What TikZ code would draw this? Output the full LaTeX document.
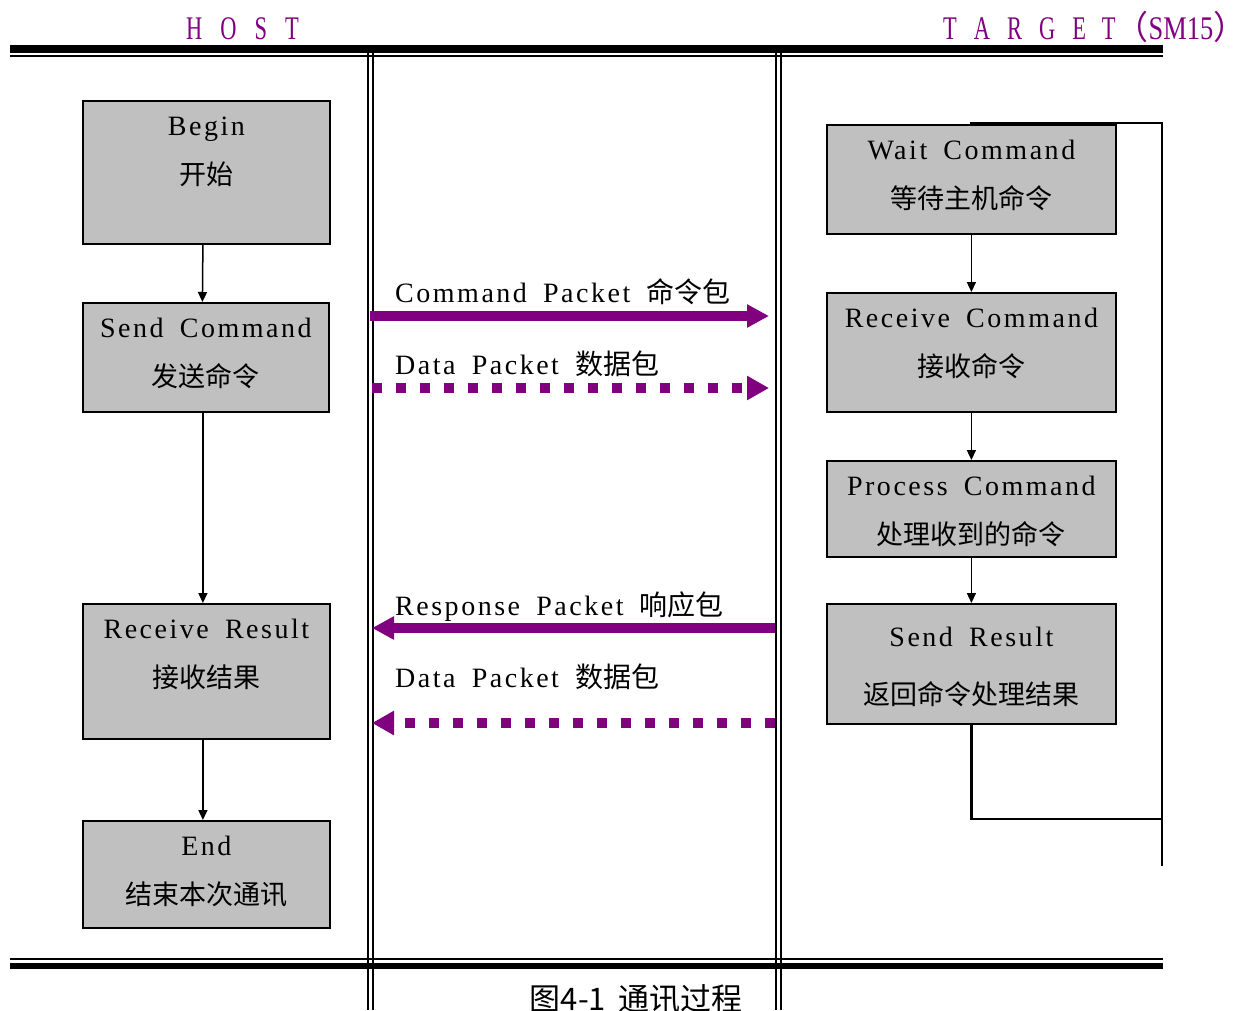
\documentclass[tikz,border=0pt]{standalone}
\usepackage{fontspec}
\setmainfont{Liberation Serif}[LetterSpace=9,WordSpace=1.7]
\newfontfamily\cjk{Noto Sans CJK SC}
\newfontfamily\ttl{Liberation Serif}[FakeStretch=0.68]
\newfontfamily\ttlb{Liberation Serif}[FakeStretch=0.8]
\usetikzlibrary{arrows.meta,calc}
\definecolor{pp}{HTML}{800080}
\definecolor{boxgray}{HTML}{C0C0C0}
\begin{document}
\begin{tikzpicture}[x=1pt,y=-1pt,
  box/.style={draw=black,line width=1.8pt,fill=boxgray,inner sep=0pt,anchor=north west},
  lbl/.style={anchor=base,inner sep=0pt,font=\fontsize{28}{30}\selectfont},
  clbl/.style={anchor=base,inner sep=0pt,font=\cjk\fontsize{27}{30}\selectfont},
  alabel/.style={anchor=base west,inner sep=0pt,font=\fontsize{28}{30}\selectfont},
  ttlstyle/.style={anchor=base west,inner sep=0pt,text=pp,font=\ttl\fontsize{33}{36}\selectfont},
  blk/.style={line width=1.5pt,-{Triangle[length=10pt,width=9pt]}},
  sol/.style={pp,line width=10pt,-{Triangle[length=22pt,width=22pt]}},
  dotl/.style={pp,line width=10pt,dash pattern=on 10pt off 14pt,-{Triangle[length=22pt,width=23pt]}},
  frame/.style={line width=2pt},
  loopl/.style={line width=2.5pt}
]
\useasboundingbox[fill=white] (0,0) rectangle (1234,1010);

% titles
\node[ttlstyle] (host) at (186,39.5) {H\hspace{18pt}O\hspace{18pt}S\hspace{18pt}T};
\node[ttlstyle] (target) at (943,39.5) {T\hspace{17pt}A\hspace{17pt}R\hspace{17pt}G\hspace{17pt}E\hspace{16pt}T{\cjk （}{\ttlb SM15}\makebox[10pt][l]{\cjk ）}};

% frame lines
\draw[line width=7.5pt] (10,49) -- (1163,49);
\draw[frame] (10,56) -- (1163,56);
\draw[frame] (10,959) -- (1163,959);
\draw[line width=6.5pt] (10,966) -- (1163,966);
\draw[frame] (368,53) -- (368,1010);
\draw[frame] (373,53) -- (373,1010);
\draw[frame] (776,53) -- (776,1010);
\draw[frame] (780.5,53) -- (780.5,1010);

% host boxes
\node[box,minimum width=247pt,minimum height=143pt] (begin) at (82,100) {};
\node[box,minimum width=246pt,minimum height=109pt] (sendc) at (82,302) {};
\node[box,minimum width=247pt,minimum height=135pt] (recvr) at (82,603) {};
\node[box,minimum width=247pt,minimum height=107pt] (endb) at (82,820) {};

\node[lbl]  (begin1) at ($(begin.north)+(0,35)$) {Begin};
\node[clbl] (begin2) at ($(begin.north)+(0,84)$) {开始};
\node[lbl]  (sendc1) at ($(sendc.north)+(0,35)$) {Send Command};
\node[clbl] (sendc2) at ($(sendc.north)+(0,84)$) {发送命令};
\node[lbl]  (recvr1) at ($(recvr.north)+(0,35)$) {Receive Result};
\node[clbl] (recvr2) at ($(recvr.north)+(0,84)$) {接收结果};
\node[lbl]  (endb1) at ($(endb.north)+(0,35)$) {End};
\node[clbl] (endb2) at ($(endb.north)+(0,84)$) {结束本次通讯};

% target boxes
\node[box,minimum width=289pt,minimum height=109pt] (wait) at (826,124) {};
\node[box,minimum width=289pt,minimum height=119pt] (recvc) at (826,292) {};
\node[box,minimum width=289pt,minimum height=96pt] (proc) at (826,460) {};
\node[box,minimum width=289pt,minimum height=120pt] (sendr) at (826,603) {};

\node[lbl]  (wait1) at ($(wait.north)+(0,35)$) {Wait Command};
\node[clbl] (wait2) at ($(wait.north)+(0,84)$) {等待主机命令};
\node[lbl]  (recvc1) at ($(recvc.north)+(0,35)$) {Receive Command};
\node[clbl] (recvc2) at ($(recvc.north)+(0,84)$) {接收命令};
\node[lbl]  (proc1) at ($(proc.north)+(0,35)$) {Process Command};
\node[clbl] (proc2) at ($(proc.north)+(0,84)$) {处理收到的命令};
\node[lbl]  (sendr1) at ($(sendr.north)+(0,43)$) {Send Result};
\node[clbl] (sendr2) at ($(sendr.north)+(0,101)$) {返回命令处理结果};

% host flow
\draw[blk] ([xshift=-3.5pt]begin.south) -- ([xshift=-3.5pt]sendc.north);
\draw[blk] ([xshift=-3pt]sendc.south) -- ([xshift=-3.5pt]recvr.north);
\draw[blk] ([xshift=-3.5pt]recvr.south) -- ([xshift=-3.5pt]endb.north);

% target flow
\draw[blk] (wait.south) -- (recvc.north);
\draw[blk] (recvc.south) -- (proc.north);
\draw[blk] (proc.south) -- (sendr.north);

% loop back
\coordinate (lp1) at (1162,819);
\coordinate (lp2) at (1162,123);
\coordinate (lp3) at (1162,866);
\coordinate (lp4) at (970,123);
\draw[loopl] (sendr.south) |- (lp1);
\draw[loopl] (lp3) -- (lp2) -- (lp4);

% packets
\coordinate (cpS) at (370,316);
\coordinate (cpE) at (769,316);
\coordinate (dpS) at (372,388);
\coordinate (dpE) at (769,388);
\coordinate (rpS) at (775,628);
\coordinate (rpE) at (372,628);
\coordinate (dbS) at (775,723);
\coordinate (dbE) at (372,723);

\draw[sol] (cpS) -- (cpE);
\draw[dotl] (dpS) -- (dpE);
\draw[sol] (rpS) -- (rpE);
\draw[dotl] (dbS) -- (dbE);

\node[alabel] (cpl) at (395,302) {Command Packet {\cjk 命令包}};
\node[alabel] (dpl) at (395,374) {Data Packet {\cjk 数据包}};
\node[alabel] (rpl) at (395,615) {Response Packet {\cjk 响应包}};
\node[alabel] (dbl) at (395,687) {Data Packet {\cjk 数据包}};

% caption
\node[anchor=base,inner sep=0pt,font=\cjk\fontsize{31}{32}\selectfont] (caption) at (636,1010) {图4-1\hspace{12pt}通讯过程};
\end{tikzpicture}
\end{document}
